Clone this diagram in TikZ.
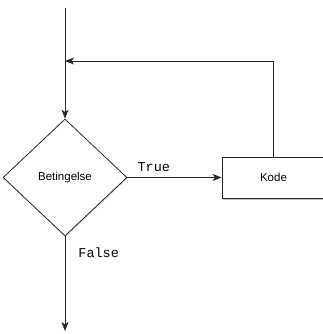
\documentclass[tikz,border=0pt]{standalone}
\usepackage{fontspec}
\setmainfont{Liberation Sans}
\setmonofont{Liberation Mono}
\usetikzlibrary{shapes.geometric, arrows.meta, positioning, shadows}

\begin{document}
\begin{tikzpicture}[
    x=1pt, y=-1pt,
    >={Stealth[length=9pt, width=7pt, inset=2.5pt]},
    font=\fontsize{11.5}{13}\selectfont,
    decision/.style = {draw=black!85, diamond, line width=0.8pt, fill=white,
                       minimum width=124pt, minimum height=117pt,
                       inner sep=0pt, aspect=1.06,
                       drop shadow={shadow xshift=0.6pt, shadow yshift=-1.2pt,
                                    opacity=0.3}},
    block/.style    = {draw=black!85, rectangle, line width=0.8pt, fill=white,
                       minimum width=103pt, minimum height=41pt,
                       drop shadow={shadow xshift=0.8pt, shadow yshift=-2pt,
                                    opacity=0.45}},
    flow/.style     = {->, line width=0.8pt, draw=black!85},
    lab/.style      = {font=\ttfamily\fontsize{13.5}{15}\selectfont, inner sep=1pt}
]
\useasboundingbox (0,0) rectangle (323,334);

% ---------------- nodes ----------------
\node[decision] (cond) at (65,177.5)  {Betingelse};
\node[block]    (kode) at (273.5,177.5) {Kode};

% ---------------- free ends ----------------
\coordinate (start) at (65,8);
\coordinate (loop)  at (65,61);
\coordinate (stop)  at (65,331);

% ---------------- connectors ----------------
\draw[flow] (start) -- (cond.north);
\draw[flow] (cond.east) -- node[lab, above, pos=0.28, yshift=4pt]{True} (kode.west);
\draw[flow] (kode.north) |- (loop);
\draw[flow] (cond.south) -- node[lab, right, pos=0.17, xshift=12pt]{False} (stop);

\end{tikzpicture}
\end{document}
